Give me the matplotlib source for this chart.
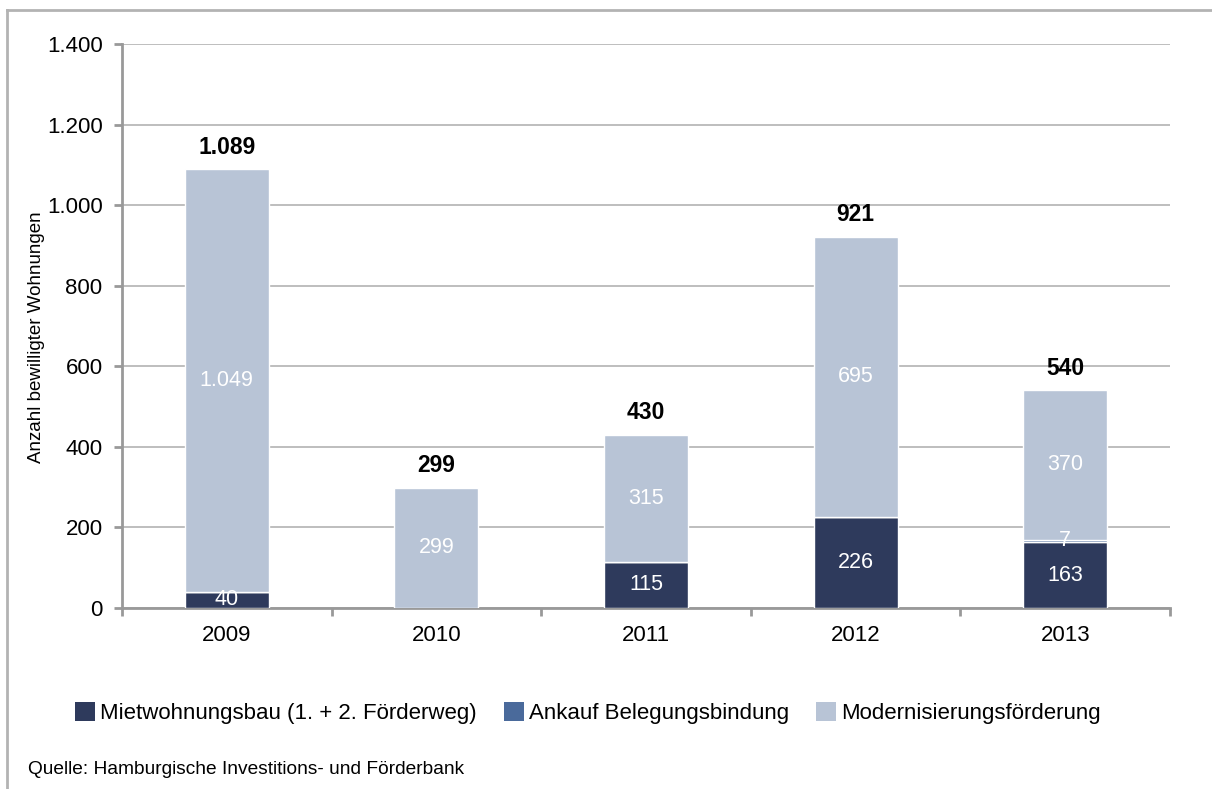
import matplotlib
matplotlib.use("Agg")
import matplotlib.pyplot as plt
from matplotlib.lines import Line2D
from matplotlib.patches import Patch
import numpy as np

years = ["2009", "2010", "2011", "2012", "2013"]
miet = [40, 0, 115, 226, 163]
ankauf = [0, 0, 0, 0, 7]
modern = [1049, 299, 315, 695, 370]
totals = [1089, 299, 430, 921, 540]
series_names = ["Mietwohnungsbau (1. + 2. Förderweg)", "Ankauf Belegungsbindung", "Modernisierungsförderung"]
colors = ["#2e3a5c", "#4a6a9b", "#b8c4d6"]
ylabel = "Anzahl bewilligter Wohnungen"
source = "Quelle: Hamburgische Investitions- und Förderbank"

def de(v):
    return f"{int(v):,}".replace(",", ".")

plt.rcParams['font.family'] = ['Liberation Sans', 'DejaVu Sans']

W, H = 1212, 789
fig = plt.figure(figsize=(W/100, H/100), dpi=100)

l, r, t, b = 122, 1170, 44, 608
ax = fig.add_axes([l/W, 1-b/H, (r-l)/W, (b-t)/H])

x = np.arange(len(years))
bw = 0.4
series = [miet, ankauf, modern]
bottom = np.zeros(len(years))
for vals, c in zip(series, colors):
    vals = np.array(vals, dtype=float)
    ax.bar(x, vals, bw, bottom=bottom, color=c, edgecolor="white", linewidth=1.0, zorder=3)
    for xi, v, bt in zip(x, vals, bottom):
        if v > 0:
            ax.text(xi, bt + v/2, de(v), ha="center", va="center", color="white", fontsize=15.5, zorder=4)
    bottom += vals

for xi, tot in zip(x, totals):
    ax.text(xi, tot + 55, de(tot), ha="center", va="center", color="black", fontsize=16.5, fontweight="bold", zorder=4)

ax.set_xlim(-0.5, len(years) - 0.5)
ax.set_ylim(0, 1400)
ax.set_yticks(np.arange(0, 1401, 200))
ax.set_yticklabels([de(v) for v in np.arange(0, 1401, 200)], fontsize=16)
ax.set_xticks(x)
ax.set_xticklabels(years, fontsize=16)
ax.set_xticks(np.arange(-0.5, len(years), 1.0), minor=True)
ax.tick_params(axis="x", which="major", length=0, pad=12)
ax.tick_params(axis="x", which="minor", length=6, width=2, color="#999999", direction="out")
ax.tick_params(axis="y", length=6, width=2, color="#999999", direction="out", pad=8)
ax.grid(axis="y", color="#b3b3b3", linewidth=1.2, zorder=0)
ax.set_axisbelow(True)
for s in ["top", "right"]:
    ax.spines[s].set_visible(False)
for s in ["left", "bottom"]:
    ax.spines[s].set_color("#999999")
    ax.spines[s].set_linewidth(2)
ax.set_ylabel(ylabel, fontsize=13.5)
ax.yaxis.set_label_coords(-0.073, 0.48)

handles = [Patch(facecolor=c, edgecolor="none") for c in colors]
fig.legend(handles, series_names, loc="center", bbox_to_anchor=(588/W, 1-713/H), ncol=3,
           frameon=False, fontsize=16, handlelength=0.9, handleheight=0.9, handletextpad=0.25,
           columnspacing=1.2)

fig.text(28/W, 1-770/H, source, ha="left", va="center", fontsize=13.8)

# outer frame (left and top edges)
fig.add_artist(Line2D([7/W, 7/W], [0, 1-10/H], color="#b3b3b3", linewidth=2, transform=fig.transFigure))
fig.add_artist(Line2D([7/W, 1], [1-10/H, 1-10/H], color="#b3b3b3", linewidth=2, transform=fig.transFigure))

fig.savefig("out.png", dpi=100)
